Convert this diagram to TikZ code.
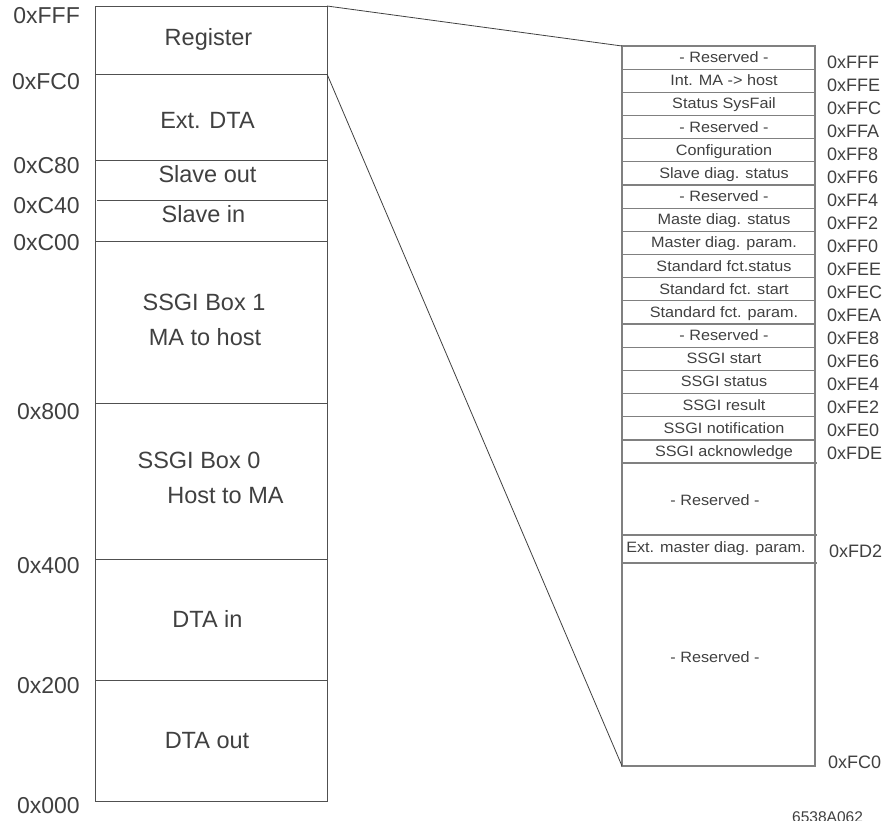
\documentclass[tikz,border=0pt]{standalone}
\usepackage{fontspec}
\setmainfont{Liberation Sans}
\newfontfamily\rfont[FakeStretch=1.08]{Liberation Sans}
\definecolor{ink}{HTML}{404040}
\definecolor{rline}{HTML}{808080}
\definecolor{lline}{HTML}{505050}
\begin{document}
\begin{tikzpicture}[x=1pt,y=-1pt,
  ltext/.style={anchor=base, inner sep=0pt, text=ink, font=\fontsize{23.5}{28}\selectfont},
  laddr/.style={anchor=base east, inner sep=0pt, text=ink, font=\fontsize{23}{28}\selectfont},
  rtext/.style={anchor=base, inner sep=0pt, text=ink, font=\rfont\fontsize{15}{18}\selectfont},
  raddr/.style={anchor=base west, inner sep=0pt, text=ink, font=\fontsize{18}{22}\selectfont},
  lcol/.style={draw=lline, line width=0.9pt},
  rcol/.style={draw=rline, line width=1.2pt},
  link/.style={draw=ink, line width=0.8pt}]
\useasboundingbox (0,0) rectangle (896,820);

% ---------- left column ----------
\coordinate (LTL) at (95,6);
\coordinate (LTR) at (327,6);
\coordinate (LBR) at (327,801);
\coordinate (LFC0) at (327,74);
\draw[lcol] (LTL) rectangle (LBR);
\foreach \y in {74,160,241,403,559,680} \draw[lcol] (95,\y) -- (327,\y);
\draw[lcol] (97,200) -- (327,200);

\node[ltext] (treg) at (208.5,45) {Register};
\node[ltext] (text) at (207.5,128) {Ext. DTA};
\node[ltext] (tso) at (207.5,182) {Slave out};
\node[ltext] (tsi) at (203.5,222) {Slave in};
\node[ltext] (tb1a) at (204,310) {SSGI Box 1};
\node[ltext] (tb1b) at (205,345) {MA to host};
\node[ltext] (tb0a) at (199,468) {SSGI Box 0};
\node[ltext] (tb0b) at (225.5,503) {Host to MA};
\node[ltext] (tdin) at (207.5,627) {DTA in};
\node[ltext] (tdout) at (207,748) {DTA out};

\node[laddr] (aFFF) at (80,23) {0xFFF};
\node[laddr] (aFC0) at (80,89) {0xFC0};
\node[laddr] (aC80) at (80,173) {0xC80};
\node[laddr] (aC40) at (80,213) {0xC40};
\node[laddr] (aC00) at (80,250) {0xC00};
\node[laddr] (a800) at (80,419) {0x800};
\node[laddr] (a400) at (80,573) {0x400};
\node[laddr] (a200) at (80,693) {0x200};
\node[laddr] (a000) at (80,813) {0x000};

% ---------- right column ----------
\coordinate (RTL) at (622,46);
\coordinate (RBL) at (622,766);
\coordinate (RBR) at (815,766);
\draw[rcol] (RTL) rectangle (RBR);
\foreach \k in {1,...,17} \draw[rcol] (622,{46+23.17*\k}) -- (815,{46+23.17*\k});
\foreach \y in {463,535,563} \draw[rcol] (622,\y) -- (817,\y);

\foreach \t [count=\k from 0] in {- Reserved -, Int. MA -> host, Status SysFail, - Reserved -, Configuration, Slave diag. status, - Reserved -, Maste diag. status, Master diag. param., Standard fct.status, Standard fct. start, Standard fct. param., - Reserved -, SSGI start, SSGI status, SSGI result, SSGI notification, SSGI acknowledge}
  \node[rtext] (r\k) at (724,{46+23.17*\k+11.6+5}) {\t};

\foreach \a [count=\k from 0] in {0xFFF,0xFFE,0xFFC,0xFFA,0xFF8,0xFF6,0xFF4,0xFF2,0xFF0,0xFEE,0xFEC,0xFEA,0xFE8,0xFE6,0xFE4,0xFE2,0xFE0,0xFDE}
  \node[raddr] (ra\k) at (827,{68+23*\k}) {\a};

\node[rtext] (rres1) at (715,505) {- Reserved -};
\node[rtext] (rext) at (716,552) {Ext. master diag. param.};
\node[rtext] (rres2) at (715,662) {- Reserved -};
\node[raddr] (raFD2) at (829,557) {0xFD2};
\node[raddr] (raFC0) at (828,768) {0xFC0};

% ---------- connectors ----------
\draw[link] (LTR) -- (RTL);
\draw[link] (LFC0) -- (RBL);

\node[anchor=base west, inner sep=0pt, text=ink, font=\fontsize{15.5}{18}\selectfont] (fig) at (792,822) {6538A062};
\end{tikzpicture}
\end{document}
